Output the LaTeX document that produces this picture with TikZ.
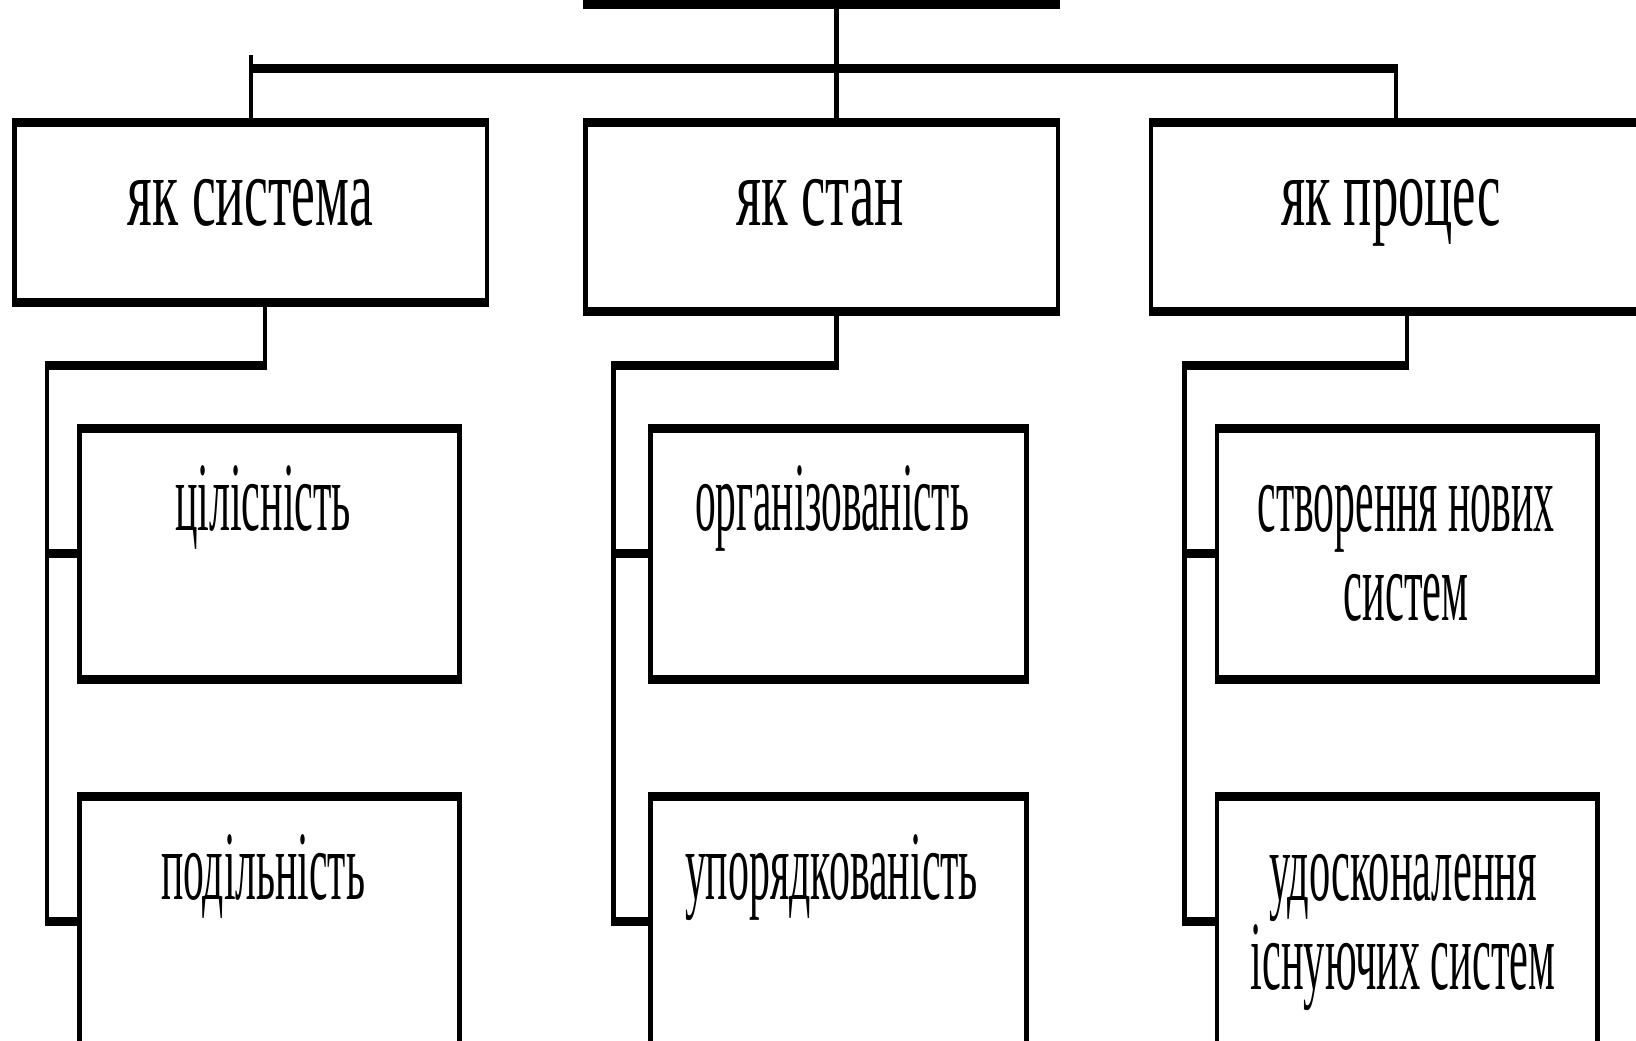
\documentclass[tikz,border=0pt]{standalone}
\usepackage{fontspec}
\setmainfont{Liberation Serif}
\usepackage{graphicx}
\begin{document}
\begin{tikzpicture}[x=1pt,y=-1pt,
  box/.style={draw, line width=4.5pt, inner sep=0pt, outer sep=0pt, rectangle},
  hl/.style={line width=9pt, shorten <=-2.25pt, shorten >=-2.25pt},
  vl/.style={line width=4.5pt},
  lbl/.style={inner sep=0pt, anchor=base, font=\fontsize{98}{89}\selectfont, align=center}]
\useasboundingbox (0,0) rectangle (1636,1041);
\fill[white] (0,0) rectangle (1636,1041);
\clip (0,0) rectangle (1636,1041);
% boxes
\node[box, minimum width=473pt, minimum height=205pt] (top) at (821.5,-97.5) {};
\node[box, minimum width=472.5pt, minimum height=180pt] (b1) at (250.75,212.5) {};
\node[box, minimum width=472.5pt, minimum height=189pt] (b2) at (821.75,217) {};
\node[box, minimum width=499pt, minimum height=189pt] (b3) at (1400.5,217) {};
\node[box, minimum width=380pt, minimum height=251pt] (c11) at (269.5,553.5) {};
\node[box, minimum width=380pt, minimum height=251pt] (c12) at (269.5,921.5) {};
\node[box, minimum width=376pt, minimum height=251pt] (c21) at (838.5,553.5) {};
\node[box, minimum width=376pt, minimum height=251pt] (c22) at (838.5,921.5) {};
\node[box, minimum width=380.5pt, minimum height=251pt] (c31) at (1407.25,553.5) {};
\node[box, minimum width=380.5pt, minimum height=251pt] (c32) at (1407.25,921.5) {};
\foreach \n in {top,b1,b2,b3,c11,c12,c21,c22,c31,c32}{
  \draw[hl] (\n.north west) -- (\n.north east);
  \draw[hl] (\n.south west) -- (\n.south east);
}
% bus
\coordinate (busL) at (251,68.5);
\coordinate (busC) at (836.5,68.5);
\coordinate (busR) at (1396,68.5);
\draw[vl] (top.south -| busC) -- (busC);
\draw[hl] (busL) -- (busR);
\draw[vl] (busL) ++(0,-13.5) -- (b1.north -| busL);
\draw[vl] (busC) -- (b2.north -| busC);
\draw[vl] (busR) -- (b3.north -| busR);
% column connectors
\coordinate (d1) at (265,365);    \coordinate (k1) at (47,365);
\coordinate (d2) at (836.5,365);  \coordinate (k2) at (613.5,365);
\coordinate (d3) at (1407,365);   \coordinate (k3) at (1184.5,365);
\draw[vl] (b1.south -| d1) -- (d1);
\draw[vl] (b2.south -| d2) -- (d2);
\draw[vl] (b3.south -| d3) -- (d3);
\draw[hl] (d1) -- (k1);
\draw[hl] (d2) -- (k2);
\draw[hl] (d3) -- (k3);
\draw[vl] (k1) -- (k1 |- c12.west);
\draw[vl] (k2) -- (k2 |- c22.west);
\draw[vl] (k3) -- (k3 |- c32.west);
\draw[hl] (k1 |- c11.west) -- (c11.west);
\draw[hl] (k1 |- c12.west) -- (c12.west);
\draw[hl] (k2 |- c21.west) -- (c21.west);
\draw[hl] (k2 |- c22.west) -- (c22.west);
\draw[hl] (k3 |- c31.west) -- (c31.west);
\draw[hl] (k3 |- c32.west) -- (c32.west);
% texts
\node[lbl] (t1) at (250.5,225) {\resizebox{245pt}{\height}{як система}};
\node[lbl] (t2) at (820,225) {\resizebox{168pt}{\height}{як стан}};
\node[lbl] (t3) at (1391,225) {\resizebox{220pt}{\height}{як процес}};
\node[lbl] (t11) at (263,530) {\resizebox{176pt}{\height}{цілісність}};
\node[lbl] (t12) at (263,899) {\resizebox{204pt}{\height}{подільність}};
\node[lbl] (t21) at (832,530) {\resizebox{274pt}{\height}{організованість}};
\node[lbl] (t22) at (831.5,899) {\resizebox{293pt}{\height}{упорядкованість}};
\node[lbl] (t31) at (1406,620) {\resizebox{297pt}{\height}{створення нових}\\\resizebox{125pt}{\height}{систем}};
\node[lbl] (t32) at (1403,989) {\resizebox{268pt}{\height}{удосконалення}\\\resizebox{305pt}{\height}{існуючих систем}};
\end{tikzpicture}
\end{document}
